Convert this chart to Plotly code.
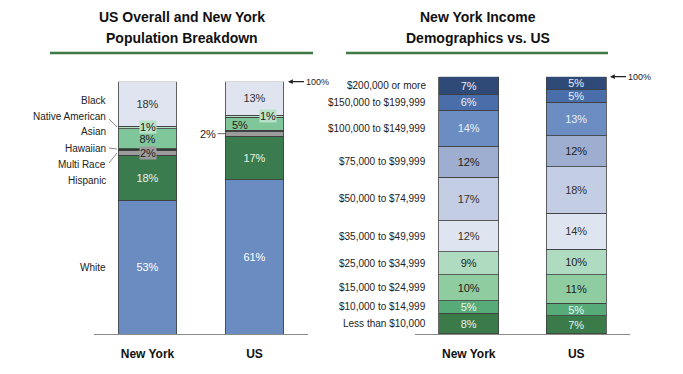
import plotly.graph_objects as go

# page has an 8px body margin; figure is sized to fill the rest of the window
OFF = 8
W, H = 683 - OFF, 374 - OFF

places = ["New York", "US"]

# ---- population breakdown (bottom to top) ----
pop_groups = ["White", "Hispanic", "Multi Race", "Hawaiian", "Asian", "Native American", "Black"]
pop_ny = [53.0, 17.8, 2.1, 0.5, 7.9, 1.1, 17.6]
pop_us = [61.2, 17.2, 2.0, 0.3, 5.2, 0.9, 13.2]
pop_colors = ["#6a8cc1", "#3b7c4f", "#9c9c9c", "#2a3a2e", "#7fc69b", "#b8e2c8", "#dfe4f0"]
pop_textcolors = ["#ffffff", "#e8f3ea", "#222222", "#222222", "#222222", "#222222", "#333333"]
pop_inside = [True, True, False, False, True, False, True]   # label drawn inside the bar
pop_inside_us = [True, True, False, False, False, False, True]

# ---- income breakdown (bottom to top) ----
inc_groups = ["Less than $10,000", "$10,000 to $14,999", "$15,000 to $24,999",
              "$25,000 to $34,999", "$35,000 to $49,999", "$50,000 to $74,999",
              "$75,000 to $99,999", "$100,000 to $149,999", "$150,000 to $199,999",
              "$200,000 or more"]
inc_ny = [8, 5, 10, 9, 12, 17, 12, 14, 6, 7]
inc_us = [7, 5, 11, 10, 14, 18, 12, 13, 5, 5]
inc_colors = ["#3b7a49", "#56ab79", "#8fcda0", "#afdcc0", "#dfe5f0",
              "#c3cde3", "#9daed0", "#6c8dc2", "#4a6ea9", "#2f4a77"]
inc_textcolors = ["#eaf4ec", "#eaf4ec", "#222222", "#222222", "#333333",
                  "#333333", "#222222", "#e8eef8", "#e8eef8", "#e8eef8"]

FONT = "Liberation Sans, Arial, sans-serif"
LBL = 10


def px_x(x):
    return (x - OFF) / W


def px_y(y):
    return 1 - (y - OFF) / H


fig = go.Figure()

for i, g in enumerate(pop_groups):
    txt = [f"{pop_ny[i]:.0f}%" if pop_inside[i] else "",
           f"{pop_us[i]:.0f}%" if pop_inside_us[i] else ""]
    fig.add_trace(go.Bar(
        x=places, y=[pop_ny[i], pop_us[i]], name=g, text=txt,
        textposition="inside", insidetextanchor="middle", textangle=0,
        textfont=dict(color=pop_textcolors[i], size=11, family=FONT),
        marker=dict(color=pop_colors[i], line=dict(color="#3f3f3f", width=0.8)),
        width=0.55, xaxis="x", yaxis="y", showlegend=False, hoverinfo="skip"))

for i, g in enumerate(inc_groups):
    fig.add_trace(go.Bar(
        x=places, y=[inc_ny[i], inc_us[i]], name=g,
        text=[f"{inc_ny[i]}%", f"{inc_us[i]}%"],
        textposition="inside", insidetextanchor="middle", textangle=0,
        textfont=dict(color=inc_textcolors[i], size=11, family=FONT),
        marker=dict(color=inc_colors[i], line=dict(color="#3f3f3f", width=0.8)),
        width=0.56, xaxis="x2", yaxis="y2", showlegend=False, hoverinfo="skip"))

annotations = []
shapes = []

# titles
for cx, lines in [(182, ["US Overall and New York", "Population Breakdown"]),
                  (478, ["New York Income", "Demographics vs. US"])]:
    for ly, t in zip([17, 38], lines):
        annotations.append(dict(text=f"<b>{t}</b>", x=px_x(cx), y=px_y(ly), xref="paper", yref="paper",
                                xanchor="center", yanchor="middle", showarrow=False,
                                font=dict(size=14, color="#111111", family=FONT)))
# green rules under titles
for x0, x1 in [(50, 313), (346, 608)]:
    shapes.append(dict(type="line", xref="paper", yref="paper", x0=px_x(x0), x1=px_x(x1),
                       y0=px_y(53), y1=px_y(53), line=dict(color="#3d7a45", width=2.5)))


def cum_mid(vals):
    out, c = [], 0
    for v in vals:
        out.append(c + v / 2)
        c += v
    return out


ny_mid = cum_mid(pop_ny)
us_mid = cum_mid(pop_us)

# population category labels (left side)
label_px = {"Black": 100, "Native American": 116, "Asian": 132, "Hawaiian": 148,
            "Multi Race": 164, "Hispanic": 180}
for i, g in enumerate(pop_groups):
    if g in label_px:
        y, yref = px_y(label_px[g]), "paper"
    else:
        y, yref = ny_mid[i], "y"
    annotations.append(dict(text=g, x=px_x(108), y=y, xref="paper", yref=yref,
                            xanchor="right", yanchor="middle", showarrow=False,
                            font=dict(size=LBL, color="#222222", family=FONT)))
# leader lines
for (x0, y0, x1, y1) in [(109, 119, 117, 127), (109, 148, 117, 149), (109, 163, 117, 153)]:
    shapes.append(dict(type="line", xref="paper", yref="paper", x0=px_x(x0), y0=px_y(y0),
                       x1=px_x(x1), y1=px_y(y1), line=dict(color="#8a8a8a", width=1)))

# small segment labels in boxes
i_na = pop_groups.index("Native American")
i_mr = pop_groups.index("Multi Race")
i_as = pop_groups.index("Asian")
annotations.append(dict(text=f"{pop_ny[i_na]:.0f}%", x=0, y=ny_mid[i_na], xref="x", yref="y",
                        showarrow=False, bgcolor="#b8e2c8", borderpad=0,
                        font=dict(size=11, color="#222222", family=FONT)))
annotations.append(dict(text=f"{pop_ny[i_mr]:.0f}%", x=0, y=ny_mid[i_mr], xref="x", yref="y",
                        showarrow=False, bgcolor="#9c9c9c", borderpad=0,
                        font=dict(size=11, color="#222222", family=FONT)))
annotations.append(dict(text=f"{pop_us[i_na]:.0f}%", x=1.126, y=us_mid[i_na], xref="x", yref="y",
                        showarrow=False, bgcolor="#b8e2c8", borderpad=0,
                        font=dict(size=11, color="#222222", family=FONT)))
annotations.append(dict(text=f"{pop_us[i_as]:.0f}%", x=0.864, y=us_mid[i_as] - 0.3, xref="x", yref="y",
                        showarrow=False,
                        font=dict(size=11, color="#222222", family=FONT)))
annotations.append(dict(text=f"{pop_us[i_mr]:.0f}%", x=1 - 0.275, y=us_mid[i_mr], xref="x", yref="y",
                        showarrow=True, arrowhead=0, arrowwidth=1, arrowcolor="#666666",
                        ax=-17, ay=0, standoff=0,
                        font=dict(size=11, color="#222222", family=FONT)))

# income category labels
inc_mid = cum_mid(inc_ny)
for i, g in enumerate(inc_groups):
    annotations.append(dict(text=g, x=px_x(428), y=inc_mid[i], xref="paper", yref="y2",
                            xanchor="right", yanchor="middle", showarrow=False,
                            font=dict(size=LBL, color="#222222", family=FONT)))

# 100% markers
for xpx, yref in [(288, "y"), (610, "y2")]:
    annotations.append(dict(text="100%", x=px_x(xpx), y=100, xref="paper", yref=yref,
                            showarrow=True, arrowhead=2, arrowsize=0.8, arrowwidth=1.2,
                            arrowcolor="#222222", ax=29, ay=0, standoff=0,
                            font=dict(size=9, color="#222222", family=FONT)))

axis_common = dict(showgrid=False, zeroline=False, ticks="", showline=True,
                   linecolor="#8a8a8a", linewidth=1,
                   tickfont=dict(size=12, color="#111111", family=FONT, weight="bold"),
                   ticklabelstandoff=9, fixedrange=True)

fig.update_layout(
    width=W, height=H, margin=dict(l=0, r=0, t=0, b=0),
    paper_bgcolor="white", plot_bgcolor="white",
    barmode="stack",
    uniformtext=dict(minsize=11, mode="show"),
    xaxis=dict(domain=[px_x(94), px_x(308)], range=[-0.5, 1.5], anchor="y", **axis_common),
    xaxis2=dict(domain=[px_x(415), px_x(630)], range=[-0.5, 1.5], anchor="y2", **axis_common),
    yaxis=dict(domain=[px_y(334), px_y(81.7)], range=[0, 100], visible=False, anchor="x", fixedrange=True),
    yaxis2=dict(domain=[px_y(334), px_y(76.7)], range=[0, 100], visible=False, anchor="x2", fixedrange=True),
    annotations=annotations, shapes=shapes,
    font=dict(family=FONT),
)

fig.write_html("out.html")
